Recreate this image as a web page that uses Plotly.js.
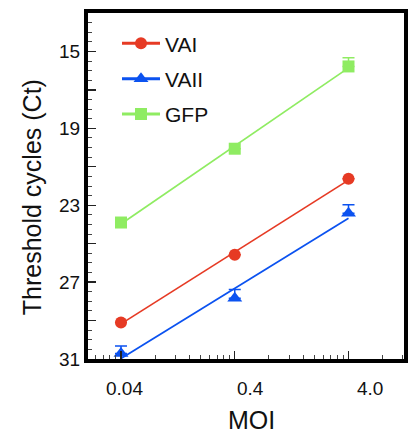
<!DOCTYPE html>
<html>
<head>
<meta charset="utf-8">
<script src="https://cdn.plot.ly/plotly-3.0.1.min.js"></script>
<style>html,body{margin:0;padding:0;background:#fff;}#chart{width:409px;height:433px;}</style>
</head>
<body>
<div id="chart"></div>
<script>
// ---- data ----
const moi = [0.04, 0.4, 4];
const moiLabels = ['0.04', '0.4', '4.0'];
const seriesNames = ['VAI', 'VAII', 'GFP'];
const vai = [29.1, 25.58, 21.62];
const vaii = [30.72, 27.84, 23.42];
const gfp = [23.9, 20.06, 15.78];
const vaiErr = [0, 0, 0];
const vaiiErr = [0.4, 0.45, 0.45];
const gfpErr = [0, 0, 0.45];
const yTickVals = [13, 15, 17, 19, 21, 23, 25, 27, 29, 31];
const yTickText = ['', '15', '', '19', '', '23', '', '27', '', '31'];
const xTitle = 'MOI';
const yTitle = 'Threshold cycles (Ct)';

// ---- styles ----
const colors = ['#e63a24', '#0b52f0', '#8fec62'];
const symbols = ['circle', 'triangle-up', 'square'];
const sizes = [12, 13, 12];
const FONT = 'Liberation Sans, Arial, Helvetica, sans-serif';

function fit(xs, ys) {
  const lx = xs.map(v => Math.log10(v));
  const n = lx.length;
  const mx = lx.reduce((a, b) => a + b, 0) / n;
  const my = ys.reduce((a, b) => a + b, 0) / n;
  let sxy = 0, sxx = 0;
  for (let i = 0; i < n; i++) { sxy += (lx[i] - mx) * (ys[i] - my); sxx += (lx[i] - mx) ** 2; }
  const b = sxy / sxx;
  return lx.map(v => my + b * (v - mx));
}

const all = [vai, vaii, gfp];
const errs = [vaiErr, vaiiErr, gfpErr];
const traces = [];
all.forEach((ys, i) => {
  traces.push({
    x: moi, y: fit(moi, ys), mode: 'lines', showlegend: false, hoverinfo: 'skip',
    line: {color: colors[i], width: 1.7}
  });
});
all.forEach((ys, i) => {
  traces.push({
    x: moi, y: ys, mode: 'markers', showlegend: false, name: seriesNames[i],
    marker: {symbol: symbols[i], size: sizes[i], color: colors[i]},
    error_y: {type: 'data', symmetric: false, array: ys.map(() => 0), arrayminus: errs[i],
              color: colors[i], thickness: 1.5, width: 6}
  });
});
all.forEach((ys, i) => {
  traces.push({
    x: [null], y: [null], mode: 'lines+markers', name: seriesNames[i], legendgroup: 'g' + i,
    marker: {symbol: symbols[i], size: sizes[i], color: colors[i]},
    line: {color: colors[i], width: 3}
  });
});

// minor x ticks at k * base
const minorX = [];
[0.002, 0.004, 0.04, 0.4, 4].forEach(b => {
  for (let k = 2; k <= 9; k++) minorX.push(+(b * k).toPrecision(6));
});

const L = 88, R = 404, T = 13.3, B = 359.2;
const W = 409, H = 433;
const pw = R - L, ph = B - T;
const px = v => (v - L) / pw;
const py = v => (B - v) / ph;

const labelX = [124.2, 250, 370];
const annotations = moiLabels.map((t, i) => ({
  text: t, xref: 'paper', yref: 'paper', x: px(labelX[i]), y: py(388.7),
  xanchor: 'center', yanchor: 'middle', showarrow: false,
  font: {family: FONT, size: 19, color: '#111'}
}));
annotations.push({
  text: xTitle, xref: 'paper', yref: 'paper', x: px(251.7), y: py(420),
  xanchor: 'center', yanchor: 'middle', showarrow: false,
  font: {family: FONT, size: 25, color: '#111'}
});
annotations.push({
  text: yTitle, xref: 'paper', yref: 'paper', x: px(31.5), y: py(198), textangle: -90,
  xanchor: 'center', yanchor: 'middle', showarrow: false,
  font: {family: FONT, size: 25, color: '#111'}
});

const layout = {
  width: W, height: H,
  margin: {l: L, r: W - R, t: T, b: H - B, pad: 0},
  paper_bgcolor: '#fff', plot_bgcolor: '#fff',
  showlegend: true,
  legend: {x: px(117), y: py(23.5), xanchor: 'left', yanchor: 'top',
           font: {family: FONT, size: 21, color: '#111'}, bgcolor: 'rgba(0,0,0,0)',
           traceorder: 'grouped', tracegroupgap: 5, itemwidth: 38},
  xaxis: {
    type: 'log', range: [-1.688, 1.09], showgrid: false, zeroline: false,
    showline: true, linecolor: '#000', linewidth: 4, mirror: true,
    tickmode: 'array', tickvals: moi, ticktext: moiLabels, showticklabels: false,
    ticks: 'inside', ticklen: 8, tickwidth: 1.3, tickcolor: '#222',
    minor: {tickmode: 'array', tickvals: minorX, ticks: 'inside', ticklen: 4, tickwidth: 1, tickcolor: '#444', showgrid: false}
  },
  yaxis: {
    range: [31, 13], showgrid: false, zeroline: false,
    showline: true, linecolor: '#000', linewidth: 4, mirror: true,
    tickmode: 'array', tickvals: yTickVals, ticktext: yTickText,
    ticks: 'inside', ticklen: 8, tickwidth: 1.3, tickcolor: '#222',
    tickfont: {family: FONT, size: 19, color: '#111'},
    minor: {dtick: 0.5, tick0: 13, ticks: 'inside', ticklen: 4, tickwidth: 1, tickcolor: '#444', showgrid: false}
  },
  annotations: annotations
};

Plotly.newPlot('chart', traces, layout, {displayModeBar: false, staticPlot: true});
</script>
</body>
</html>
